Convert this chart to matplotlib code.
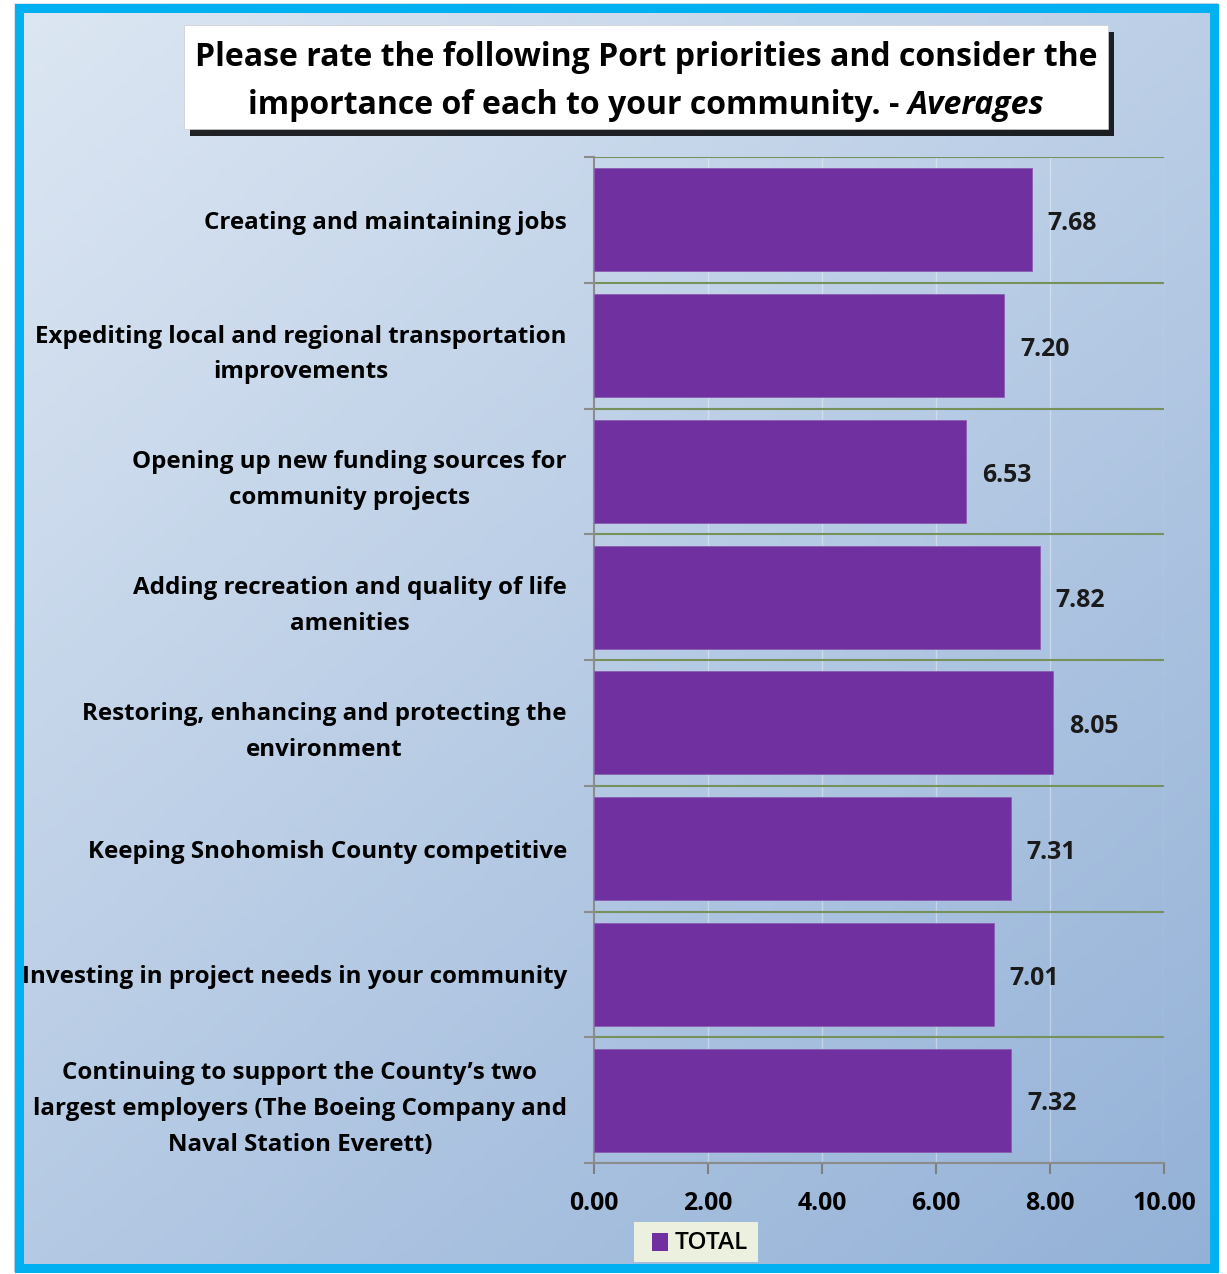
import matplotlib
matplotlib.use("Agg")
import matplotlib.pyplot as plt
import numpy as np
from matplotlib.patches import Rectangle

categories = [
    "Creating and maintaining jobs",
    "Expediting local and regional transportation\nimprovements",
    "Opening up new funding sources for\ncommunity projects",
    "Adding recreation and quality of life\namenities",
    "Restoring, enhancing and protecting the\nenvironment",
    "Keeping Snohomish County competitive",
    "Investing in project needs in your community",
    "Continuing to support the County\u2019s two\nlargest employers (The Boeing Company and\nNaval Station Everett)",
]
values = [7.68, 7.20, 6.53, 7.82, 8.05, 7.31, 7.01, 7.32]
xticks = [0, 2, 4, 6, 8, 10]
series_name = "TOTAL"

FONT = "Open Sans"
W, H = 1227, 1274
fig = plt.figure(figsize=(W / 100, H / 100), dpi=100)
fig.patch.set_facecolor("white")
r = fig.canvas.get_renderer()

def fx(px):
    return px / W

def fy(py):
    return 1 - py / H

def fit_size(text, target_px, **kw):
    tt = fig.text(0, 0, text, fontsize=20, **kw)
    w = tt.get_window_extent(r).width
    tt.remove()
    return 20 * target_px / w

# background gradient
bg = fig.add_axes([0, 0, 1, 1], zorder=0)
bg.set_xlim(0, W)
bg.set_ylim(H, 0)
bg.axis("off")
c1 = np.array([221, 231, 243]) / 255
c2 = np.array([147, 177, 215]) / 255
ny, nx = 200, 200
yy, xx = np.mgrid[0:1:ny * 1j, 0:1:nx * 1j]
t = (0.45 * xx + 0.55 * yy)
t = (t - t.min()) / (t.max() - t.min())
img = c1[None, None, :] * (1 - t[..., None]) + c2[None, None, :] * t[..., None]
bg.imshow(img, extent=[14, 1218, 1272, 3], aspect="auto", zorder=0)
# cyan frame
bg.add_patch(Rectangle((18.5, 7.5), 1195, 1260, fill=False, edgecolor="#00B0F0",
                       linewidth=9 * 72 / 100, zorder=2))
# title box with shadow
bg.add_patch(Rectangle((190, 32), 924, 104, facecolor="black", edgecolor="none",
                       alpha=0.85, zorder=3))
bg.add_patch(Rectangle((184, 25), 924, 104, facecolor="white", edgecolor="#cccccc",
                       linewidth=0.5, zorder=4))
line1 = "Please rate the following Port priorities and consider the"
TFS = fit_size(line1, 903, fontweight="bold", family=FONT)
bg.text(646, 58, line1, fontsize=TFS, fontweight="bold", family=FONT,
        ha="center", va="center", zorder=5)
t1 = bg.text(0, 105, "importance of each to your community. - ", fontsize=TFS,
             fontweight="bold", family=FONT, ha="left", va="center", zorder=5)
t2 = bg.text(0, 105, "Averages", fontsize=TFS, fontweight="bold", fontstyle="italic",
             family=FONT, ha="left", va="center", zorder=5)
w1 = t1.get_window_extent(r).width
w2 = t2.get_window_extent(r).width
x0 = 646 - (w1 + w2) / 2
t1.set_x(x0)
t2.set_x(x0 + w1)

LFS = fit_size(categories[6], 544, fontweight="bold", family=FONT)
NFS = fit_size("10.00", 64, fontweight="bold", family=FONT)

# main axes
left, right, top, bottom = 594, 1164, 157, 1163
ax = fig.add_axes([fx(left), fy(bottom), fx(right - left), (bottom - top) / H], zorder=1)
ax.patch.set_alpha(0)
n = len(categories)
y = np.arange(n)
ax.barh(y, values, height=0.82, color="#7030A0", edgecolor="#8a5cb0", linewidth=0.6, zorder=3)
ax.set_xlim(0, 10)
ax.set_ylim(n - 0.5, -0.5)
ax.set_xticks(xticks)
ax.set_xticklabels([f"{v:.2f}" for v in xticks], fontsize=NFS, fontweight="bold", family=FONT)
ax.set_yticks(y)
ax.set_yticklabels(categories, fontsize=LFS, fontweight="bold", family=FONT,
                   multialignment="center", linespacing=1.65)
ax.tick_params(axis="y", length=0, pad=19.5)
ax.tick_params(axis="x", length=8, width=1.5, color="#7f7f7f", pad=12)
for b in np.arange(-0.5, n, 1.0):
    ax.hlines(b, 0, 10, color="#77915a", linewidth=1.5, zorder=2)
    ax.plot([-0.15, 0], [b, b], color="#8c8c8c", linewidth=1.5, clip_on=False, zorder=2)
for xv in xticks[1:]:
    ax.axvline(xv, color="white", alpha=0.35, linewidth=1, zorder=1)
for s in ["top", "right"]:
    ax.spines[s].set_visible(False)
ax.spines["left"].set_color("#8c8c8c")
ax.spines["left"].set_linewidth(1.5)
ax.spines["bottom"].set_color("#8c8c8c")
ax.spines["bottom"].set_linewidth(1.5)
for yi, v in zip(y, values):
    ax.text(v + 0.28, yi + 0.03, f"{v:.2f}", fontsize=NFS, fontweight="bold", family=FONT,
            ha="left", va="center", color="#1a1a1a")

# legend
bg.add_patch(Rectangle((634, 1222), 124, 40, facecolor="#EBF1DE", edgecolor="none", zorder=3))
bg.add_patch(Rectangle((652, 1233), 16, 18, facecolor="#7030A0", edgecolor="none", zorder=4))
bg.text(675, 1243, series_name,
        fontsize=fit_size(series_name, 73, family=FONT, fontweight="semibold"),
        family=FONT, fontweight="semibold", ha="left", va="center", zorder=5)

fig.savefig("out.png", dpi=100)
